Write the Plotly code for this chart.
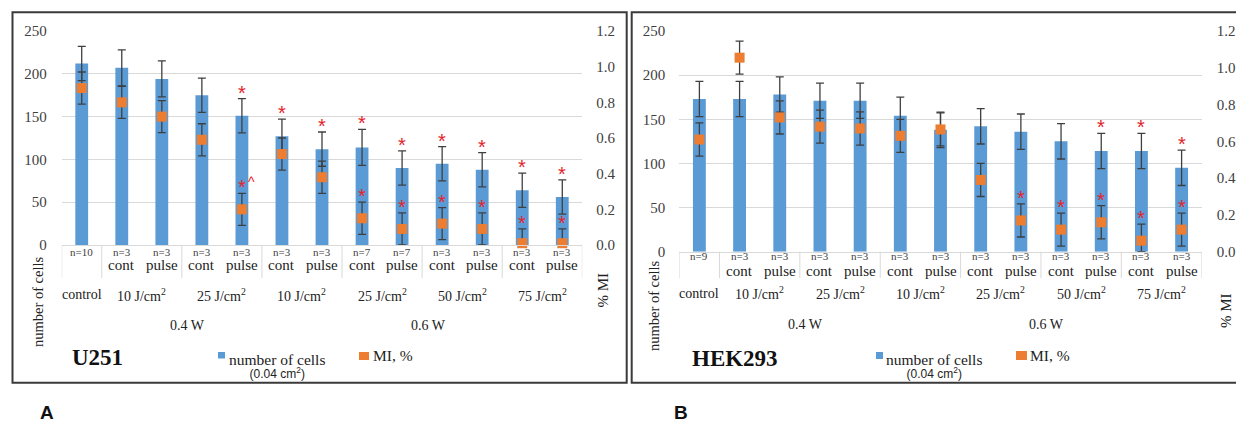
import plotly.graph_objects as go

W, H = 1236, 424

# ---------------- data ----------------
cat_power = ["", "0.4 W", "0.4 W", "0.4 W", "0.4 W",
             "0.6 W", "0.6 W", "0.6 W", "0.6 W", "0.6 W", "0.6 W", "0.6 W", "0.6 W"]
cat_dose = ["control",
            "10 J/cm<sup>2</sup>", "10 J/cm<sup>2</sup>", "25 J/cm<sup>2</sup>", "25 J/cm<sup>2</sup>",
            "10 J/cm<sup>2</sup>", "10 J/cm<sup>2</sup>", "25 J/cm<sup>2</sup>", "25 J/cm<sup>2</sup>",
            "50 J/cm<sup>2</sup>", "50 J/cm<sup>2</sup>", "75 J/cm<sup>2</sup>", "75 J/cm<sup>2</sup>"]
cat_mode = ["", "cont", "pulse", "cont", "pulse", "cont", "pulse",
            "cont", "pulse", "cont", "pulse", "cont", "pulse"]

# Panel A : U251
a_n = ["n=10", "n=3", "n=3", "n=3", "n=3", "n=3", "n=3",
       "n=7", "n=7", "n=3", "n=3", "n=3", "n=3"]
a_cells = [212, 207, 194, 175, 151, 127, 112, 114, 90, 95, 88, 64, 56]
a_cells_err = [20, 21, 21, 20, 20, 20, 20, 21, 20, 20, 20, 20, 20]
a_mi = [0.88, 0.80, 0.72, 0.59, 0.20, 0.51, 0.38, 0.15, 0.09, 0.12, 0.09, 0.01, 0.01]
a_mi_err = [0.09, 0.09, 0.09, 0.09, 0.09, 0.09, 0.09, 0.09, 0.09, 0.09, 0.09, 0.08, 0.08]
a_sig_cells = ["", "", "", "", "*", "*", "*", "*", "*", "*", "*", "*", "*"]
a_sig_mi = ["", "", "", "", "*^", "", "", "*", "*", "*", "*", "*", "*"]

# Panel B : HEK293
b_n = ["n=9", "n=3", "n=3", "n=3", "n=3", "n=3", "n=3",
       "n=3", "n=3", "n=3", "n=3", "n=3", "n=3"]
b_cells = [173, 173, 178, 171, 171, 154, 138, 142, 136, 125, 114, 114, 95]
b_cells_err = [20, 20, 20, 20, 20, 21, 20, 20, 20, 20, 20, 20, 20]
b_mi = [0.61, 1.055, 0.73, 0.68, 0.67, 0.63, 0.665, 0.39, 0.17, 0.12, 0.16, 0.06, 0.12]
b_mi_err = [0.09, 0.09, 0.09, 0.09, 0.09, 0.09, 0.09, 0.09, 0.09, 0.09, 0.09, 0.09, 0.09]
b_sig_cells = ["", "", "", "", "", "", "", "", "", "", "*", "*", "*"]
b_sig_mi = ["", "", "", "", "", "", "", "", "*", "*", "*", "*", "*"]

left_range = [0, 250]
right_range = [0, 1.2]
legend_cells = "number of cells"
legend_cells_sub = "(0.04 cm<sup>2</sup>)"
legend_mi = "MI, %"
ytitle_left = "number of cells"
ytitle_right = "% MI"

# ---------------- style ----------------
BLUE = "#5b9bd5"
ORANGE = "#ed7d31"
ERR = "#3f3f3f"
RED = "#e3242b"
GRID = "#d9d9d9"
TXT = "#404040"
SERIF = "Liberation Serif, Times New Roman, Tinos, DejaVu Serif, serif"
SANS = "Liberation Sans, Arial, DejaVu Sans, sans-serif"


def px(x):
    return x / W


def py(y):
    return 1 - y / H


panels = [
    dict(name="U251", letter="A", xa="x", ya="y", ya2="y2",
         xkey="xaxis", ykey="yaxis", y2key="yaxis2",
         x0=61.7, x1=582.3, yzero=245.0, ytop=31.0,
         tl_left=11, tl_right=10,
         row_n=251.5, row_mode=264.5, row_dose=294.5, row_power=325.5, div_bottom=278,
         title_l=(38, 302), title_r=(602, 290.5), name_xy=(97, 357),
         leg_blue=(218, 352, 225, 358.5), leg_txt=227.5, leg_y=355.7,
         leg_orange=(359, 352, 369, 360), leg_txt2=371,
         box=(12.5, 12.3, 626.7, 382.7), letter_x=47,
         cells=a_cells, cells_err=a_cells_err, mi=a_mi, mi_err=a_mi_err,
         n=a_n, sig_c=a_sig_cells, sig_m=a_sig_mi),
    dict(name="HEK293", letter="B", xa="x2", ya="y3", ya2="y4",
         xkey="xaxis2", ykey="yaxis3", y2key="yaxis4",
         x0=679.3, x1=1201.7, yzero=251.7, ytop=31.0,
         tl_left=10, tl_right=11,
         row_n=256, row_mode=270.5, row_dose=293.3, row_power=324.5, div_bottom=278,
         title_l=(654, 306), title_r=(1226, 311), name_xy=(734.5, 358.5),
         leg_blue=(876, 352, 883, 359), leg_txt=885, leg_y=355.7,
         leg_orange=(1016, 351, 1027, 360), leg_txt2=1028,
         box=(631.7, 12.3, 1250, 382.7), letter_x=680.5,
         cells=b_cells, cells_err=b_cells_err, mi=b_mi, mi_err=b_mi_err,
         n=b_n, sig_c=b_sig_cells, sig_m=b_sig_mi),
]

fig = go.Figure()
annotations = []
shapes = []
layout = {}

ncat = len(cat_mode)
xs = list(range(ncat))


def runs(keys):
    out = []
    start = 0
    for i in range(1, len(keys) + 1):
        if i == len(keys) or keys[i] != keys[start]:
            out.append((start, i - 1, keys[start]))
            start = i
    return out


dose_runs = runs(list(zip(cat_power, cat_dose)))
power_runs = [r for r in runs(cat_power) if r[2] != ""]


def paper_text(x, y, text, font, **kw):
    d = dict(x=px(x), y=py(y), xref="paper", yref="paper", text=text, showarrow=False,
             font=font, xanchor="center", yanchor="middle")
    d.update(kw)
    annotations.append(d)


for P in panels:
    xa, ya, ya2 = P["xa"], P["ya"], P["ya2"]
    fig.add_trace(go.Bar(
        x=xs, y=P["cells"], width=0.32, xaxis=xa, yaxis=ya,
        marker=dict(color=BLUE, line=dict(width=0)),
        error_y=dict(type="data", array=P["cells_err"], color=ERR, thickness=1.3, width=4),
        showlegend=False, hoverinfo="skip"))
    fig.add_trace(go.Scatter(
        x=xs, y=P["mi"], mode="markers", xaxis=xa, yaxis=ya2, cliponaxis=False,
        marker=dict(symbol="square", size=10, color=ORANGE, line=dict(width=0)),
        error_y=dict(type="data", array=P["mi_err"],
                     arrayminus=[min(e, v) for e, v in zip(P["mi_err"], P["mi"])],
                     color=ERR, thickness=1.3, width=4),
        showlegend=False, hoverinfo="skip"))

    dom_x = [px(P["x0"]), px(P["x1"])]
    dom_y = [py(P["yzero"]), py(P["ytop"])]
    layout[P["xkey"]] = dict(domain=dom_x, range=[-0.5, ncat - 0.5], anchor=ya,
                             showticklabels=False, showgrid=False, zeroline=False,
                             showline=True, linecolor=GRID, linewidth=1, ticks="",
                             fixedrange=True, automargin=False)
    layout[P["ykey"]] = dict(domain=dom_y, range=left_range, dtick=50, anchor=xa,
                             showgrid=True, gridcolor=GRID, gridwidth=1, zeroline=False,
                             showline=False, ticks="outside", ticklen=P["tl_left"],
                             tickcolor="rgba(0,0,0,0)", automargin=False,
                             tickfont=dict(family=SERIF, size=15, color=TXT))
    layout[P["y2key"]] = dict(domain=dom_y, range=right_range, dtick=0.2, tickformat=".1f",
                              overlaying=ya, side="right", anchor=xa,
                              showgrid=False, zeroline=False, showline=False, automargin=False,
                              ticks="outside", ticklen=P["tl_right"], tickcolor="rgba(0,0,0,0)",
                              tickfont=dict(family=SERIF, size=15, color=TXT))

    # multi-level category labels
    for i in xs:
        annotations.append(dict(x=i, y=py(P["row_n"]), xref=xa, yref="paper", text=P["n"][i],
                                showarrow=False, font=dict(family=SERIF, size=11, color=TXT),
                                xanchor="center", yanchor="middle"))
        if cat_mode[i]:
            annotations.append(dict(x=i, y=py(P["row_mode"]), xref=xa, yref="paper",
                                    text=cat_mode[i], showarrow=False,
                                    font=dict(family=SERIF, size=15, color="#222"),
                                    xanchor="center", yanchor="middle"))
    for (s, e, key) in dose_runs:
        annotations.append(dict(x=(s + e) / 2, y=py(P["row_dose"]), xref=xa, yref="paper",
                                text=key[1], showarrow=False,
                                font=dict(family=SERIF, size=14, color="#222"),
                                xanchor="center", yanchor="middle"))
    for (s, e, key) in power_runs:
        annotations.append(dict(x=(s + e) / 2, y=py(P["row_power"]), xref=xa, yref="paper",
                                text=key, showarrow=False, xshift=6,
                                font=dict(family=SERIF, size=14, color="#222"),
                                xanchor="center", yanchor="middle"))
    bounds = [-0.5] + [e + 0.5 for (s, e, k) in dose_runs]
    for b in bounds:
        shapes.append(dict(type="line", xref=xa, yref="paper", x0=b, x1=b,
                           y0=py(P["yzero"]), y1=py(P["div_bottom"]),
                           line=dict(color=GRID, width=1)))

    # significance marks
    for i in xs:
        if P["sig_c"][i]:
            annotations.append(dict(x=i, y=P["cells"][i] + P["cells_err"][i], xref=xa, yref=ya,
                                    text=P["sig_c"][i], showarrow=False, yshift=6,
                                    font=dict(family=SANS, size=20, color=RED),
                                    xanchor="center", yanchor="middle"))
        if P["sig_m"][i]:
            s = P["sig_m"][i]
            top = P["mi"][i] + P["mi_err"][i]
            annotations.append(dict(x=i, y=top, xref=xa, yref=ya2, text=s[0], showarrow=False,
                                    yshift=6, font=dict(family=SANS, size=20, color=RED),
                                    xanchor="center", yanchor="middle"))
            if len(s) > 1:
                annotations.append(dict(x=i, y=top, xref=xa, yref=ya2, text=s[1:],
                                        showarrow=False, yshift=11, xshift=10,
                                        font=dict(family=SANS, size=14, color=RED),
                                        xanchor="center", yanchor="middle"))

    # axis titles
    paper_text(P["title_l"][0], P["title_l"][1], ytitle_left,
               dict(family=SERIF, size=14.5, color="#222"), textangle=-90)
    paper_text(P["title_r"][0], P["title_r"][1], ytitle_right,
               dict(family=SERIF, size=15, color="#222"), textangle=-90)
    # cell line name
    paper_text(P["name_xy"][0], P["name_xy"][1], "<b>%s</b>" % P["name"],
               dict(family=SERIF, size=23, color="#111"))
    # legend
    bx0, by0, bx1, by1 = P["leg_blue"]
    shapes.append(dict(type="rect", xref="paper", yref="paper", x0=px(bx0), x1=px(bx1),
                       y0=py(by1), y1=py(by0), fillcolor=BLUE, line=dict(width=0)))
    leg_text = ("<span style='font-family:Liberation Serif,Times New Roman,DejaVu Serif,serif;"
                "font-size:15.5px'>%s</span><br><span style='font-size:12px'>%s</span>"
                % (legend_cells, legend_cells_sub))
    paper_text(P["leg_txt"], P["leg_y"] - 6.2, leg_text,
               dict(family=SANS, size=10, color="#222"),
               xanchor="left", yanchor="top", align="center", borderpad=0)
    ox0, oy0, ox1, oy1 = P["leg_orange"]
    shapes.append(dict(type="rect", xref="paper", yref="paper", x0=px(ox0), x1=px(ox1),
                       y0=py(oy1), y1=py(oy0), fillcolor=ORANGE, line=dict(width=0)))
    paper_text(P["leg_txt2"], P["leg_y"], legend_mi,
               dict(family=SERIF, size=15.5, color="#222"), xanchor="left")
    # panel frame
    fx0, fy0, fx1, fy1 = P["box"]
    shapes.append(dict(type="rect", xref="paper", yref="paper", x0=px(fx0), x1=px(fx1),
                       y0=py(fy1), y1=py(fy0), line=dict(color="#3a3a3a", width=2),
                       fillcolor="rgba(0,0,0,0)"))
    # panel letter
    annotations.append(dict(x=px(P["letter_x"]), y=0, xref="paper", yref="paper",
                            text="<b>%s</b>" % P["letter"], showarrow=False,
                            xanchor="center", yanchor="bottom", borderpad=0,
                            font=dict(family=SANS, size=19, color="#111")))

fig.update_layout(
    width=W, height=H, autosize=False,
    margin=dict(l=0, r=0, t=0, b=0, pad=0, autoexpand=False),
    paper_bgcolor="white", plot_bgcolor="white",
    showlegend=False, barmode="overlay",
    annotations=annotations, shapes=shapes, **layout)

post = ("document.documentElement.style.margin='0';"
        "document.body.style.margin='0';"
        "document.documentElement.style.overflow='hidden';"
        "document.body.style.overflow='hidden';"
        "var gd=document.getElementById('{plot_id}');"
        "gd.style.position='fixed';gd.style.top='0px';gd.style.left='0px';")

fig.write_html("out.html", config={"displayModeBar": False}, post_script=post)
